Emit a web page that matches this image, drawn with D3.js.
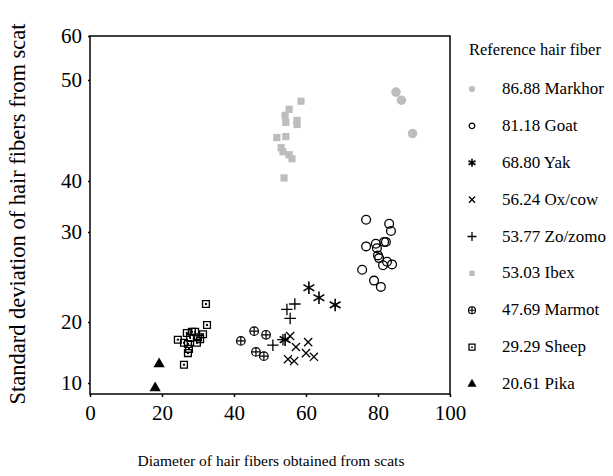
<!DOCTYPE html>
<html lang="en">
<head>
  <meta charset="UTF-8">
  <title>Hair fiber scatter</title>
  <script src="https://d3js.org/d3.v7.min.js"></script>
  <style>
    body { margin: 0; background: white; }
    svg { display: block; font-family: "Liberation Serif", "Times New Roman", serif; }
    .axis text { font-family: "Liberation Serif", serif; font-size: 21px; fill: #000; }
    .axis path, .axis line { stroke: #000; stroke-width: 1.5px; }
  </style>
</head>
<body>
<svg id="chart" width="613" height="476"></svg>
<script>
  // y tick labels on the original are not evenly spaced
  const yTicks = [10, 20, 30, 40, 50, 60];
  const xTicks = [0, 20, 40, 60, 80, 100];

  const series = ["Markhor", "Goat", "Yak", "Ox/cow", "Zo/zomo", "Ibex", "Marmot", "Sheep", "Pika"];
  const meanDiameter = ["86.88", "81.18", "68.80", "56.24", "53.77", "53.03", "47.69", "29.29", "20.61"];

  const markhor = [[85.0, 48.8], [86.5, 48.0], [89.6, 44.7]];
  const goat = [[76.7, 32.4], [83.1, 31.6], [83.6, 30.2], [76.7, 28.4], [79.4, 28.7], [79.7, 28.2],
    [82.2, 28.9], [81.7, 28.9], [80.0, 27.4], [80.3, 27.1], [82.5, 26.7], [81.4, 26.3],
    [83.9, 26.4], [75.6, 25.8], [78.9, 24.6], [80.8, 23.9]];
  const yak = [[60.8, 23.8], [63.6, 22.7], [68.1, 21.9], [54.2, 17.1]];
  const oxcow = [[55.6, 17.7], [57.2, 15.9], [60.6, 16.7], [60.0, 14.9], [62.2, 14.3], [55.0, 13.9], [56.7, 13.6]];
  const zomo = [[54.7, 21.4], [56.9, 22.0], [55.6, 20.4], [50.8, 16.2], [53.6, 17.1]];
  const ibex = [[58.6, 47.9], [55.3, 47.1], [54.2, 46.5], [54.4, 45.8], [57.5, 46.0], [57.5, 45.6],
    [51.9, 44.3], [54.4, 44.4], [53.1, 43.3], [53.6, 42.9], [55.3, 42.6], [56.1, 42.2], [53.9, 40.3]];
  const marmot = [[41.9, 16.9], [45.6, 18.5], [48.9, 17.9], [46.1, 15.1], [48.3, 14.4]];
  const sheep = [[32.2, 22.0], [32.5, 19.5], [26.9, 18.2], [28.3, 18.4], [29.2, 18.4], [31.4, 18.0],
    [27.8, 17.4], [30.0, 17.5], [30.6, 17.2], [24.4, 17.1], [26.1, 16.6], [27.2, 16.4],
    [29.7, 16.6], [27.5, 15.6], [27.2, 14.9], [26.1, 13.0]];
  const pika = [[19.2, 13.1], [18.1, 9.2]];

  const svg = d3.select("#chart");
  const mLeft = 90, mRight = 450, mTop = 36, mBottom = 394;

  const x = d3.scaleLinear().domain([0, 100]).range([mLeft, mRight]);
  const y = d3.scaleLinear()
    .domain([8.2, 10, 20, 30, 40, 50, 60])
    .range([mBottom, 383, 322, 232, 181, 80, mTop]);

  // frame
  svg.append("rect")
    .attr("x", mLeft).attr("y", mTop)
    .attr("width", mRight - mLeft).attr("height", mBottom - mTop)
    .attr("fill", "none").attr("stroke", "#000").attr("stroke-width", 1.5);

  svg.append("g")
    .attr("class", "axis")
    .attr("transform", `translate(0,${mBottom})`)
    .call(d3.axisBottom(x).tickValues(xTicks).tickSize(3).tickPadding(8))
    .call(g => g.select(".domain").remove());

  svg.append("g")
    .attr("class", "axis")
    .attr("transform", `translate(${mLeft},0)`)
    .call(d3.axisLeft(y).tickValues(yTicks).tickSize(2).tickPadding(6))
    .call(g => g.select(".domain").remove());

  svg.append("text")
    .attr("transform", "translate(25,214) rotate(-90)")
    .attr("text-anchor", "middle")
    .attr("font-size", 22.5)
    .text("Standard deviation of hair fibers from scat");

  svg.append("text")
    .attr("x", 271).attr("y", 466)
    .attr("text-anchor", "middle")
    .attr("font-size", 15.5)
    .text("Diameter of hair fibers obtained from scats");

  const gray = "#bdbdbd";
  const sym = (type, size) => d3.symbol().type(type).size(size)();
  const marmotPath = r => `M${-r},0A${r},${r} 0 1,0 ${r},0A${r},${r} 0 1,0 ${-r},0M${-r},0H${r}M0,${-r}V${r}`;
  const sheepPath = s => `M${-s},${-s}H${s}V${s}H${-s}Z`;

  // style per series: path in plot, path in legend, fill, stroke, stroke width, data
  const styles = {
    "Markhor": { d: sym(d3.symbolCircle, 72), ld: sym(d3.symbolCircle, 30), fill: gray, stroke: "none", sw: 0, data: markhor },
    "Goat": { d: sym(d3.symbolCircle, 60), ld: sym(d3.symbolCircle, 24), fill: "none", stroke: "#000", sw: 1.3, data: goat },
    "Yak": { d: sym(d3.symbolAsterisk, 110), ld: sym(d3.symbolAsterisk, 45), fill: "none", stroke: "#000", sw: 1.6, data: yak },
    "Ox/cow": { d: sym(d3.symbolTimes, 45), ld: sym(d3.symbolTimes, 26), fill: "none", stroke: "#000", sw: 1.3, data: oxcow },
    "Zo/zomo": { d: sym(d3.symbolPlus, 45), ld: sym(d3.symbolPlus, 28), fill: "none", stroke: "#000", sw: 1.3, data: zomo },
    "Ibex": { d: sym(d3.symbolSquare, 52), ld: sym(d3.symbolSquare, 28), fill: gray, stroke: "none", sw: 0, data: ibex },
    "Marmot": { d: marmotPath(4.3), ld: marmotPath(3.5), fill: "none", stroke: "#000", sw: 1.2, data: marmot },
    "Sheep": { d: sheepPath(3.4), ld: sheepPath(3), fill: "none", stroke: "#000", sw: 1.3, data: sheep, dot: true },
    "Pika": { d: sym(d3.symbolTriangle, 55), ld: sym(d3.symbolTriangle, 36), fill: "#000", stroke: "none", sw: 0, data: pika }
  };

  const plot = svg.append("g");
  series.forEach(name => {
    const s = styles[name];
    const g = plot.selectAll(null)
      .data(s.data)
      .enter()
      .append("g")
      .attr("transform", d => `translate(${x(d[0])},${y(d[1])})`);
    g.append("path")
      .attr("d", s.d)
      .attr("fill", s.fill)
      .attr("stroke", s.stroke)
      .attr("stroke-width", s.sw);
    if (s.dot) g.append("rect").attr("x", -1).attr("y", -1).attr("width", 2).attr("height", 2).attr("fill", "#000");
  });

  // legend
  const ly = d3.scalePoint().domain(series).range([89, 384]);
  svg.append("text")
    .attr("x", 469).attr("y", 55)
    .attr("font-size", 16.5)
    .text("Reference hair fiber");

  const items = svg.selectAll(".legend-item")
    .data(series)
    .enter()
    .append("g")
    .attr("transform", d => `translate(472,${ly(d)})`);

  items.append("path")
    .attr("d", d => styles[d].ld)
    .attr("fill", d => styles[d].fill)
    .attr("stroke", d => styles[d].stroke)
    .attr("stroke-width", d => styles[d].sw);
  items.filter(d => styles[d].dot)
    .append("rect").attr("x", -0.8).attr("y", -0.8).attr("width", 1.6).attr("height", 1.6).attr("fill", "#000");

  items.append("text")
    .attr("x", 30).attr("y", 5)
    .attr("font-size", 17)
    .text((d, i) => `${meanDiameter[i]} ${d}`);
</script>
</body>
</html>
